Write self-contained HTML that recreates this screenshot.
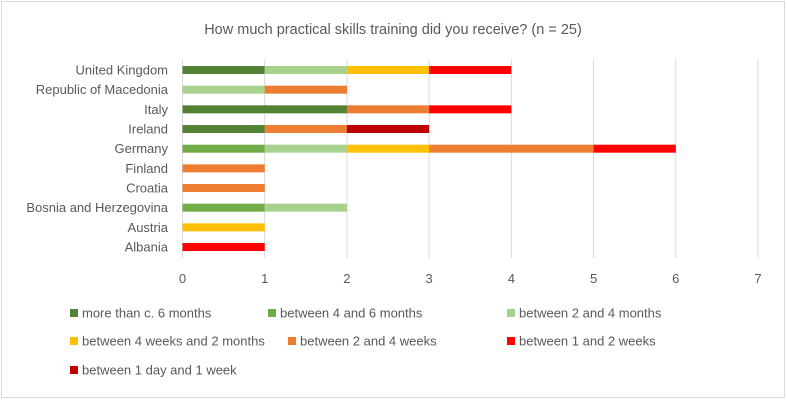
<!DOCTYPE html>
<html><head><meta charset="utf-8"><style>
body{margin:0;background:#fff;font-family:"Liberation Sans",Calibri,sans-serif;}
#wrap{position:relative;width:787px;height:402px;}
</style></head><body>
<div id="wrap">
<svg id="c" width="787" height="402" xmlns="http://www.w3.org/2000/svg">
<rect x="1.5" y="1.5" width="783" height="396" fill="#fff" stroke="#d9d9d9"/>
<text x="393" y="34" text-anchor="middle" font-size="14.5" fill="#595959">How much practical skills training did you receive? (n = 25)</text>
</svg>
</div>
<script>
const categories=["United Kingdom","Republic of Macedonia","Italy","Ireland","Germany","Finland","Croatia","Bosnia and Herzegovina","Austria","Albania"];
const seriesNames=["more than c. 6 months","between 4 and 6 months","between 2 and 4 months","between 4 weeks and 2 months","between 2 and 4 weeks","between 1 and 2 weeks","between 1 day and 1 week"];
const seriesColors=["#548235","#70ad47","#a9d18e","#ffc000","#ed7d31","#ff0000","#c00000"];
const s0=[1,0,2,1,0,0,0,0,0,0];
const s1=[0,0,0,0,1,0,0,1,0,0];
const s2=[1,1,0,0,1,0,0,1,0,0];
const s3=[1,0,0,0,1,0,0,0,1,0];
const s4=[0,1,1,1,2,1,1,0,0,0];
const s5=[1,0,1,0,1,0,0,0,0,1];
const s6=[0,0,0,1,0,0,0,0,0,0];
const xTicks=[0,1,2,3,4,5,6,7];
const series=[s0,s1,s2,s3,s4,s5,s6];
const svg=document.getElementById('c');
const NS='http://www.w3.org/2000/svg';
const x0=182.5,x7=758,xMax=7;
const xs=v=>x0+(x7-x0)*v/xMax;
const yTop=70,step=19.67;
const ys=i=>yTop+i*step;
function mk(t,a){const e=document.createElementNS(NS,t);for(const k in a)e.setAttribute(k,a[k]);svg.appendChild(e);return e;}
xTicks.forEach(t=>{
 const l=mk('line',{x1:xs(t),x2:xs(t),y1:59,y2:258,stroke:'#d9d9d9','stroke-width':1});
 
 
 const tx=mk('text',{x:xs(t),y:283,'text-anchor':'middle','font-size':13,fill:'#595959'});
 tx.textContent=t;
 
 
});
categories.forEach((c,i)=>{
 const tx=mk('text',{x:168,y:ys(i)+4.5,'text-anchor':'end','font-size':13,fill:'#595959'});
 tx.textContent=c;
 
 
 let acc=0;
 series.forEach((s,k)=>{
  const v=s[i];
  if(v>0){
   const r=mk('rect',{x:xs(acc),y:ys(i)-4,width:xs(acc+v)-xs(acc),height:8,fill:seriesColors[k]});
   
   
  }
  acc+=v;
 });
});
const legPos=[[70,313],[268,313],[507,313],[70,341],[288,341],[507,341],[70,370]];
seriesNames.forEach((n,k)=>{
 const [lx,ly]=legPos[k];
 const r=mk('rect',{x:lx,y:ly-4,width:8,height:8,fill:seriesColors[k]});
 
 
 const t=mk('text',{x:lx+12,y:ly+4.5,'font-size':13,fill:'#595959'});
 t.textContent=n;
 
 
});
</script>
</body></html>
